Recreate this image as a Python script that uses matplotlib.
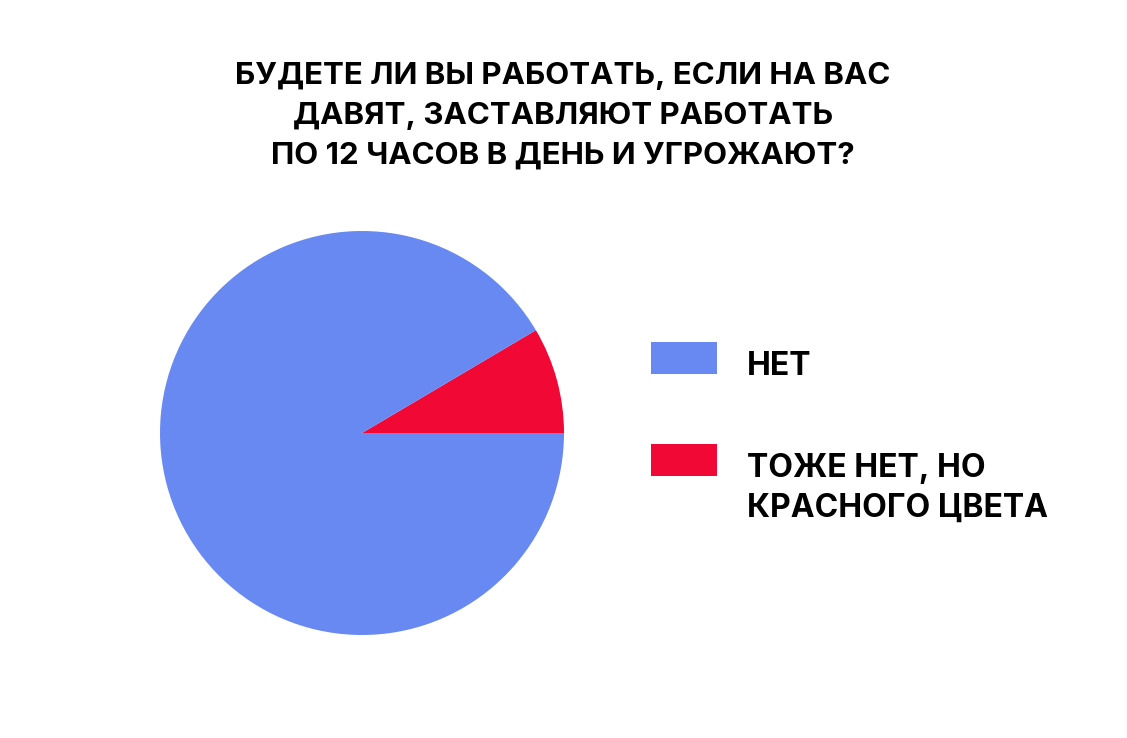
import matplotlib
matplotlib.use("Agg")
import matplotlib.pyplot as plt
from matplotlib.patches import Rectangle

plt.rcParams['font.family'] = ['Inter', 'DejaVu Sans']

title_lines = ["БУДЕТЕ ЛИ ВЫ РАБОТАТЬ, ЕСЛИ НА ВАС",
               "ДАВЯТ, ЗАСТАВЛЯЮТ РАБОТАТЬ",
               "ПО 12 ЧАСОВ В ДЕНЬ И УГРОЖАЮТ?"]
labels = ["НЕТ", "ТОЖЕ НЕТ, НО\nКРАСНОГО ЦВЕТА"]
values = [91.5, 8.5]
colors = ["#6889F2", "#F20834"]

W, H = 1127, 738
fig = plt.figure(figsize=(W / 100, H / 100), dpi=100)

def fx(px):
    return px / W

def fy(py):
    return 1 - py / H

# pie: center (362, 433), radius 202 px
ax = fig.add_axes([fx(160), fy(635), fx(404), 404 / H])
ax.pie(values[::-1], colors=colors[::-1], startangle=0, counterclock=True,
       radius=1, wedgeprops=dict(linewidth=0))
ax.set_xlim(-1, 1)
ax.set_ylim(-1, 1)
ax.set_aspect("auto")
ax.axis("off")

# title
for i, line in enumerate(title_lines):
    fig.text(fx(563), fy(84 + 40 * i), line, ha="center", va="baseline",
             fontsize=22.5, fontweight="bold", color="black")

# legend
patch_tops = [342, 444]
for i, (lab, col) in enumerate(zip(labels, colors)):
    top = patch_tops[i]
    fig.patches.append(Rectangle((fx(651), fy(top + 32)), fx(66), 32 / H,
                                 transform=fig.transFigure, color=col,
                                 linewidth=0))
    for j, part in enumerate(lab.split("\n")):
        fig.text(fx(747), fy(top + 32 + 1 + 40 * j), part, ha="left",
                 va="baseline", fontsize=23, fontweight="bold", color="black")

fig.savefig("out.png", dpi=100, facecolor="white")
